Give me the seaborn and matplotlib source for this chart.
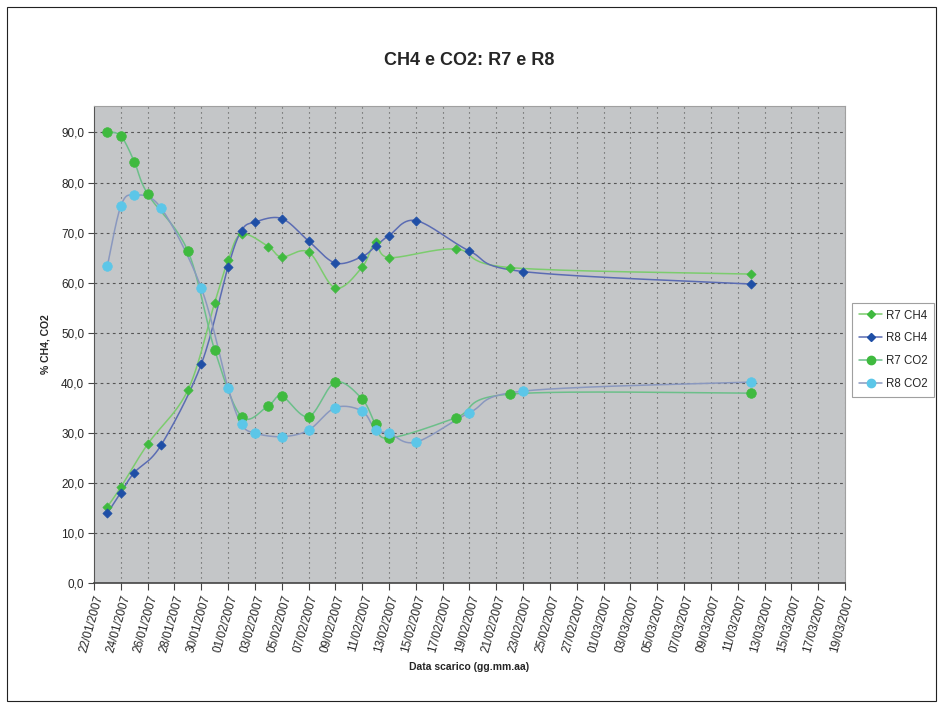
import numpy as np
import pandas as pd
import seaborn as sns
import matplotlib.pyplot as plt
import matplotlib.dates as mdates
from matplotlib.lines import Line2D
from matplotlib.patches import Rectangle
from matplotlib.ticker import FuncFormatter, MultipleLocator

# data (dates of sampling, % values)
r7_ch4_dates = ['23/01/2007', '24/01/2007', '26/01/2007', '29/01/2007', '31/01/2007', '01/02/2007',
                '02/02/2007', '04/02/2007', '05/02/2007', '07/02/2007', '09/02/2007', '11/02/2007',
                '12/02/2007', '13/02/2007', '18/02/2007', '22/02/2007', '12/03/2007']
r7_ch4 = [15.2, 19.1, 27.7, 38.5, 56.0, 64.5, 69.7, 67.2, 65.1, 66.1, 58.9, 63.1, 68.1, 65.0, 66.7, 63.0, 61.7]

r8_dates = ['23/01/2007', '24/01/2007', '25/01/2007', '27/01/2007', '30/01/2007', '01/02/2007',
            '02/02/2007', '03/02/2007', '05/02/2007', '07/02/2007', '09/02/2007', '11/02/2007',
            '12/02/2007', '13/02/2007', '15/02/2007', '19/02/2007', '23/02/2007', '12/03/2007']
r8_ch4 = [13.9, 18.0, 22.0, 27.5, 43.7, 63.2, 70.4, 72.1, 72.8, 68.3, 63.9, 65.2, 67.3, 69.4, 72.4, 66.3, 62.2, 59.7]
r8_co2 = [63.4, 75.3, 77.5, 74.9, 58.9, 38.9, 31.7, 29.9, 29.2, 30.5, 35.0, 34.3, 30.5, 29.9, 28.1, 34.0, 38.3, 40.1]

r7_co2_dates = ['23/01/2007', '24/01/2007', '25/01/2007', '26/01/2007', '29/01/2007', '31/01/2007',
                '02/02/2007', '04/02/2007', '05/02/2007', '07/02/2007', '09/02/2007', '11/02/2007',
                '12/02/2007', '13/02/2007', '18/02/2007', '22/02/2007', '12/03/2007']
r7_co2 = [90.1, 89.3, 84.2, 77.7, 66.3, 46.5, 33.2, 35.4, 37.3, 33.2, 40.1, 36.7, 31.7, 28.9, 33.0, 37.7, 37.9]

series = [
    # name, dates, values, line colour, marker colour, marker, size
    ('R7 CH4', r7_ch4_dates, r7_ch4, '#7ccc6e', '#3fba3f', 'D', 22),
    ('R8 CH4', r8_dates, r8_ch4, '#5b6cb3', '#1f4fa6', 'D', 22),
    ('R7 CO2', r7_co2_dates, r7_co2, '#6cbf8a', '#3fba3f', 'o', 48),
    ('R8 CO2', r8_dates, r8_co2, '#8a98bf', '#5cc6e8', 'o', 48),
]

rows = []
for name, d, v, *_ in series:
    for di, vi in zip(d, v):
        rows.append({'serie': name, 'data': pd.to_datetime(di, format='%d/%m/%Y'), 'valore': vi})
df = pd.DataFrame(rows)


def smooth(x, y, sx=13.39, sy=5.0, n=30):
    # Excel-like smoothed line (Bezier, Catmull-Rom control points) in pixel-like space
    p = np.column_stack([np.asarray(x) * sx, np.asarray(y) * sy])
    pp = np.vstack([p[0], p, p[-1]])
    out = []
    t = np.linspace(0, 1, n)[:, None]
    for i in range(1, len(pp) - 2):
        p0, p1, p2, p3 = pp[i - 1], pp[i], pp[i + 1], pp[i + 2]
        c1 = p1 + (p2 - p0) / 6
        c2 = p2 - (p3 - p1) / 6
        seg = (1 - t) ** 3 * p1 + 3 * (1 - t) ** 2 * t * c1 + 3 * (1 - t) * t ** 2 * c2 + t ** 3 * p2
        out.append(seg)
    out = np.vstack(out)
    return out[:, 0] / sx, out[:, 1] / sy


sns.set_style('white')
plt.rcParams['font.family'] = ['Liberation Sans', 'DejaVu Sans']

fig = plt.figure(figsize=(9.44, 7.07), dpi=100)
ax = fig.add_axes([0.0996, 0.1758, 0.7955, 0.6743])
ax.set_facecolor('#c4c6c8')

for name, d, v, lc, mc, mk, ms in series:
    sub = df[df['serie'] == name]
    xs = mdates.date2num(sub['data'])
    sx, sy = smooth(xs, sub['valore'].values)
    ax.plot(sx, sy, color=lc, lw=1.1, zorder=3)

for name, d, v, lc, mc, mk, ms in series:
    sub = df[df['serie'] == name]
    sns.scatterplot(data=sub, x='data', y='valore', ax=ax, color=mc, marker=mk, s=ms,
                    edgecolor=mc, linewidth=0.5, zorder=4, legend=False)

start = mdates.date2num(pd.Timestamp('2007-01-22'))
end = mdates.date2num(pd.Timestamp('2007-03-19'))
ax.set_xlim(start, end)
ax.set_ylim(0, 95.3)
ticks = np.arange(start, end + 0.1, 2)
ax.set_xticks(ticks)
ax.xaxis.set_major_formatter(mdates.DateFormatter('%d/%m/%Y'))
ax.yaxis.set_major_locator(MultipleLocator(10))
ax.yaxis.set_major_formatter(FuncFormatter(lambda v, p: f'{v:.1f}'.replace('.', ',')))

ax.grid(False)
for tx in ticks[1:]:
    ax.axvline(tx, color='#555555', lw=0.8, ls=(0, (1, 3.5)), zorder=1)
for ty in range(10, 91, 10):
    ax.axhline(ty, color='#555555', lw=0.8, ls=(0, (2.5, 3)), zorder=1)

plt.setp(ax.get_xticklabels(), rotation=74, ha='right', rotation_mode='anchor')
ax.tick_params(axis='x', direction='out', length=5, width=0.8, color='#444444', labelsize=8.5, pad=3)
ax.tick_params(axis='y', direction='out', length=4, width=0.8, color='#444444', labelsize=8.5, pad=3)
ax.tick_params(bottom=True, left=True)

for s in ['top', 'right']:
    ax.spines[s].set_color('#a0a0a0')
    ax.spines[s].set_linewidth(0.8)
ax.spines['left'].set_color('#555555')
ax.spines['bottom'].set_color('#444444')
ax.spines['bottom'].set_linewidth(1.2)

ax.set_xlabel('Data scarico (gg.mm.aa)', fontsize=7.5, fontweight='bold', labelpad=6)
ax.set_ylabel('% CH4, CO2', fontsize=7.5, fontweight='bold', labelpad=8)
fig.text(0.497, 0.914, 'CH4 e CO2: R7 e R8', ha='center', va='center', fontsize=13, fontweight='bold')

handles = [Line2D([], [], color=lc, lw=1.1, marker=mk, markersize=(4.5 if mk == 'D' else 6),
                  markerfacecolor=mc, markeredgecolor=mc, label=name)
           for name, d, v, lc, mc, mk, ms in series]
leg = fig.legend(handles=handles, loc='upper left', bbox_to_anchor=(0.903, 0.572), frameon=True,
                 fancybox=False, fontsize=8.3, handlelength=2.0, handletextpad=0.3,
                 labelspacing=0.95, borderpad=0.6, borderaxespad=0)
leg.get_frame().set_edgecolor('#888888')
leg.get_frame().set_linewidth(0.8)

fig.patches.append(Rectangle((0.007, 0.008), 0.985, 0.982, transform=fig.transFigure,
                             fill=False, edgecolor='#222222', lw=0.8))

fig.savefig('out.png', dpi=100)
